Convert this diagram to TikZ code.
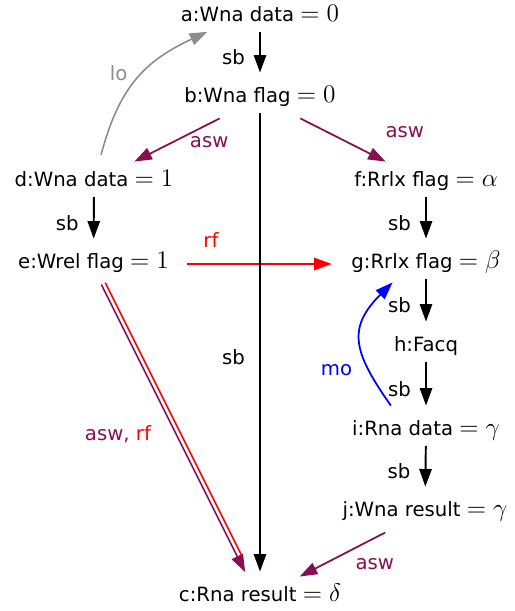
\documentclass[tikz,border=0pt]{standalone}
\usepackage{amsmath,amssymb}
\usepackage{fontspec}
\setmainfont{DejaVu Sans}[Scale=0.8]
\usetikzlibrary{arrows.meta,positioning}
\definecolor{aswcol}{RGB}{136,14,79}
\definecolor{locol}{RGB}{140,140,140}

\begin{document}
\begin{tikzpicture}[
  font=\fontsize{14}{16}\selectfont,
  event/.style={inner xsep=8pt, inner ysep=3pt, text height=8pt, text depth=2.5pt},
  lbl/.style={inner sep=2pt},
  evarrow/.style={-{Triangle[length=10pt, width=7pt]}},
  sb/.style={evarrow, line width=1.1pt, shorten >=6pt},
  asw/.style={evarrow, aswcol, line width=1pt, shorten <=7pt, shorten >=7pt},
  rf/.style={evarrow, red, line width=1pt},
  mo/.style={evarrow, blue, line width=1pt},
  lo/.style={evarrow, locol, line width=0.9pt}
]
  \useasboundingbox (0,0) rectangle (10.28,-12.22);

  % Events
  \node[event] (a) at (5.2,-0.34) {a:Wna data $= 0$};
  \node[event] (b) at (5.2,-1.96) {b:Wna flag $= 0$};
  \node[event] (d) at (1.88,-3.64) {d:Wna data $= 1$};
  \node[event] (f) at (8.52,-3.64) {f:Rrlx flag $= \alpha$};
  \node[event] (e) at (1.87,-5.28) {e:Wrel flag $= 1$};
  \node[event] (g) at (8.52,-5.28) {g:Rrlx flag $= \beta$};
  \node[event] (h) at (8.52,-6.94) {h:Facq};
  \node[event] (i) at (8.52,-8.62) {i:Rna data $= \gamma$};
  \node[event] (j) at (8.5,-10.24) {j:Wna result $= \gamma$};
  \node[event] (c) at (5.2,-11.94) {c:Rna result $= \delta$};

  % Reads-from
  \draw[rf, shorten <=2pt, shorten >=3pt] (e) -- (g) node[lbl, pos=0.18, above=7pt] {rf};

  % Sequenced-before
  \draw[sb] (a) -- (b) node[lbl, midway, left=6pt] {sb};
  \draw[sb] (b) -- (c) node[lbl, pos=0.52, left=6pt] {sb};
  \draw[sb] (d) -- (e) node[lbl, midway, left=6pt] {sb};
  \draw[sb] (f) -- (g) node[lbl, midway, left=6pt] {sb};
  \draw[sb] (g) -- (h) node[lbl, midway, left=6pt] {sb};
  \draw[sb] (h) -- (i) node[lbl, midway, left=6pt] {sb};
  \draw[sb] (i) -- (j) node[lbl, midway, left=6pt] {sb};

  % Additional synchronizes-with
  \draw[asw] (b) -- (d) node[lbl, pos=0.2, below=5pt] {asw};
  \draw[asw] (b) -- (f) node[lbl, pos=0.75, anchor=south west, xshift=6.5pt, yshift=6.3pt] {asw};
  \draw[asw] (j) -- (c) node[lbl, pos=0.2, below=9pt] {asw};

  % asw and rf together
  \draw[asw, line width=0.9pt, shorten <=3pt, transform canvas={shift={(-1.1pt,-0.55pt)}}] (e) -- (c)
    node[lbl, pos=0.51, left=12pt] {\textcolor{aswcol}{asw,} \textcolor{red}{rf}};
  \draw[rf, -, line width=0.9pt, shorten <=3pt, shorten >=17pt, transform canvas={shift={(1.1pt,0.55pt)}}] (e) -- (c);

  % Modification order and location order
  \draw[mo] ([xshift=-20pt, yshift=6pt]i.north) to[out=125, in=225, looseness=1.35]
    node[lbl, pos=0.25, left=7pt] {mo} ([xshift=-19pt, yshift=-2pt]g.south);
  \draw[lo] ([xshift=4pt, yshift=7pt]d.north) to[out=75, in=205, looseness=1.1]
    node[lbl, pos=0.55, left=6pt] {lo} ([xshift=-30pt]a.south);
\end{tikzpicture}
\end{document}
